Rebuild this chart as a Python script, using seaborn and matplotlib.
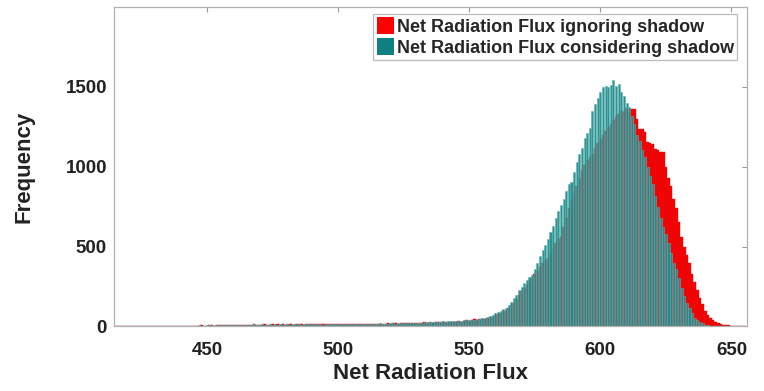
import numpy as np
import pandas as pd
import matplotlib
matplotlib.use("Agg")
import matplotlib.pyplot as plt
from matplotlib.patches import Patch
import seaborn as sns

# ---------------- data ----------------
bin_start = 415
bin_end = 655
bin_centers = list(range(bin_start, bin_end + 1))

teal_counts = [
    # 415-544
    0,0,0,0,0,0,0,0,0,0,
    0,0,0,0,0,0,0,2,0,3,
    0,2,3,0,4,3,5,4,6,5,
    6,5,7,6,5,8,7,6,8,7,
    8,7,9,8,10,9,12,10,11,9,
    12,10,11,13,10,12,14,11,12,13,
    12,14,11,13,12,14,13,12,15,13,
    14,12,15,13,14,16,13,15,14,12,
    15,13,14,16,15,17,14,13,16,15,
    14,16,15,17,16,15,17,16,18,17,
    17,19,16,18,17,19,21,18,20,19,
    21,20,22,21,23,22,24,23,25,26,
    25,27,26,28,30,32,31,33,32,34,
    # 545-574
    34,35,36,38,40,40,42,42,45,48,
    50,52,60,68,75,85,93,100,108,115,
    135,156,180,200,230,250,272,290,310,324,
    # 575-604
    360,400,440,478,510,550,593,630,680,720,
    760,800,850,890,905,967,1030,1080,1120,1180,
    1210,1240,1352,1394,1430,1470,1498,1508,1498,1510,
    # 605-634
    1545,1508,1518,1470,1440,1400,1373,1320,1270,1200,
    1160,1102,1061,1000,940,894,820,750,680,620,
    582,520,460,400,360,302,240,190,150,115,
    # 635-655
    85,55,38,28,20,12,8,6,5,4,
    3,2,1,0,0,0,0,0,0,0,0,
]

red_counts = [
    # 415-544
    3,4,3,4,3,4,3,3,4,3,
    3,2,3,2,3,0,2,0,4,0,
    3,0,4,3,2,4,3,5,4,5,
    4,6,5,7,6,5,7,8,6,7,
    8,7,8,10,9,8,10,9,11,10,
    11,12,10,13,11,12,11,13,12,11,
    13,12,14,12,13,12,14,13,12,14,
    13,15,12,14,13,15,16,14,13,15,
    14,16,13,15,14,16,15,14,17,15,
    16,15,17,14,16,18,17,16,15,18,
    17,16,18,17,19,18,20,19,17,21,
    20,19,21,22,20,23,22,24,25,23,
    26,24,28,27,26,29,30,28,31,30,
    # 545-574
    30,35,30,33,38,35,40,44,40,45,
    48,45,50,58,62,70,78,85,95,100,
    115,130,150,170,195,220,240,260,285,305,
    # 575-604
    330,350,375,400,415,430,460,490,520,545,
    560,620,680,740,790,830,880,930,978,1010,
    1040,1060,1082,1120,1150,1175,1200,1225,1250,1270,
    # 605-634
    1290,1310,1330,1352,1340,1370,1340,1362,1362,1300,
    1237,1237,1217,1154,1150,1144,1112,1102,1095,1092,
    998,930,880,800,740,655,562,500,450,395,
    # 635-655
    330,280,230,180,140,100,75,55,40,28,
    22,17,12,8,8,6,5,4,3,2,1,
]

labels = ["Net Radiation Flux ignoring shadow",
          "Net Radiation Flux considering shadow"]
x_ticks = [450, 500, 550, 600, 650]
y_ticks = [0, 500, 1000, 1500]

df = pd.DataFrame({"flux": bin_centers, "red": red_counts, "teal": teal_counts})

# ---------------- plot ----------------
sns.set_style("white")
plt.rcParams["font.family"] = ["Liberation Sans", "DejaVu Sans"]
plt.rcParams["font.weight"] = "bold"

fig = plt.figure(figsize=(7.64, 3.91), dpi=100)
ax = fig.add_axes([0.149, 0.165, 0.829, 0.817])

red_c = "#ff0000"
teal_c = "#238d8d"

sns.histplot(data=df, x="flux", weights="red", discrete=True, ax=ax,
             color=red_c, alpha=1.0, edgecolor="#c01818", linewidth=0.3)
sns.histplot(data=df, x="flux", weights="teal", discrete=True, shrink=0.78, ax=ax,
             color=teal_c, alpha=0.95, edgecolor="#5fb0b0", linewidth=0.4)

ax.set_xlim(414.5, 656)
ax.set_ylim(0, 2000)
ax.set_xticks(x_ticks)
ax.set_yticks(y_ticks)
ax.tick_params(axis="both", which="both", direction="in", length=3.5,
               top=True, right=True, color="#999999",
               labelsize=13.5, pad=5)
ax.tick_params(axis="x", pad=11)
for lab in ax.get_xticklabels() + ax.get_yticklabels():
    lab.set_fontweight("bold")
    lab.set_color("#222222")
for sp in ax.spines.values():
    sp.set_color("#b0b0b0")
    sp.set_linewidth(0.9)

ax.set_xlabel("Net Radiation Flux", fontsize=16, fontweight="bold",
              color="#222222", labelpad=3)
ax.set_ylabel("Frequency", fontsize=16, fontweight="bold",
              color="#222222", labelpad=22)

handles = [Patch(facecolor=red_c, edgecolor="none"),
           Patch(facecolor="#0f7f7f", edgecolor="none")]
leg = ax.legend(handles, labels, loc="upper right", bbox_to_anchor=(0.99, 0.99),
                fancybox=False, frameon=True, handlelength=0.95, handleheight=1.05,
                handletextpad=0.15, borderpad=0.2, labelspacing=0.12,
                prop={"weight": "bold", "size": 13}, borderaxespad=0.2)
leg.get_frame().set_edgecolor("#aaaaaa")
leg.get_frame().set_linewidth(0.9)

fig.savefig("out.png", dpi=100)
